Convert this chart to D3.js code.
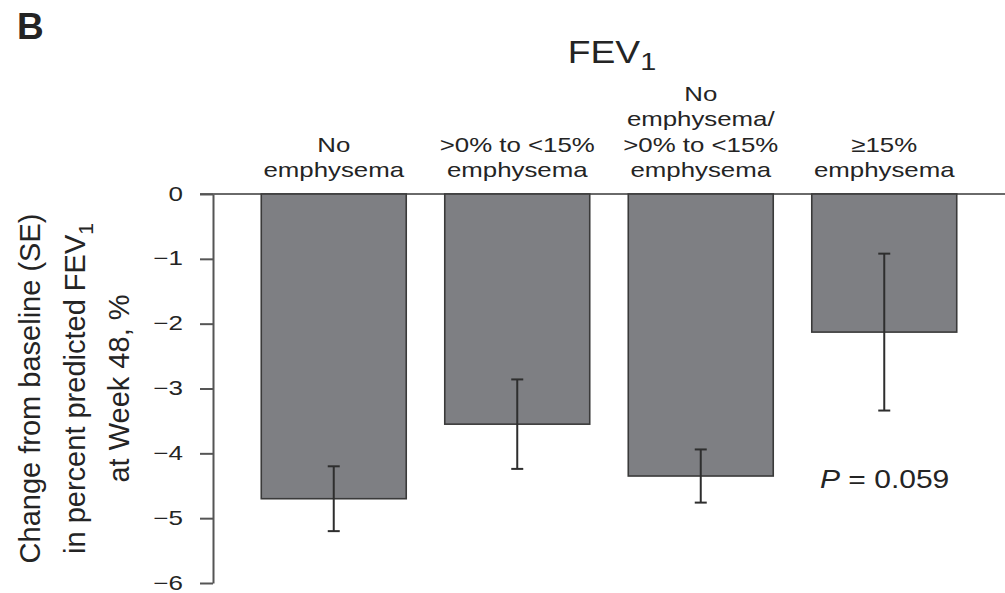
<!DOCTYPE html>
<html><head><meta charset="utf-8">
<script src="https://cdn.jsdelivr.net/npm/d3@7"></script>
<style>
body{margin:0;background:#fff}
svg{display:block}
text{font-family:"Liberation Sans",Arial,Helvetica,sans-serif;fill:#242424}
</style>
</head><body>
<svg id="c" width="1005" height="593"></svg>
<script>
// ---- data ----
const categories = [
  ["No", "emphysema"],
  [">0% to <15%", "emphysema"],
  ["No", "emphysema/", ">0% to <15%", "emphysema"],
  ["\u226515%", "emphysema"]
];
const changeValues = [-4.70, -3.55, -4.35, -2.13];
const seValues = [0.50, 0.69, 0.41, 1.21];
const yTicks = [0, -1, -2, -3, -4, -5, -6];
const yLabelLines = ["Change from baseline (SE)", "in percent predicted FEV", "at Week 48, %"];
const titleText = "FEV";
const pValueText = "0.059";
const panelLabel = "B";

// ---- layout ----
const svg = d3.select("#c");
const plotLeft = 213, plotRight = 1005, plotTop = 194, plotBottom = 583;

const x = d3.scaleBand().domain(d3.range(categories.length))
  .range([plotLeft, plotRight]).paddingInner(0.21).paddingOuter(0.263);
const y = d3.scaleLinear().domain([-6, 0]).range([plotBottom, plotTop]);

// zero line
svg.append("line")
  .attr("x1", plotLeft - 13).attr("x2", plotRight)
  .attr("y1", y(0)).attr("y2", y(0))
  .attr("stroke", "#6a6a6a").attr("stroke-width", 2);

// bars
svg.append("g").selectAll("rect").data(changeValues).join("rect")
  .attr("x", (d, i) => x(i))
  .attr("y", y(0))
  .attr("width", x.bandwidth())
  .attr("height", d => y(d) - y(0))
  .attr("fill", "#7e7f83")
  .attr("stroke", "#3a3a3a")
  .attr("stroke-width", 1.6);

// error bars
const eg = svg.append("g").attr("stroke", "#2e2e2e").attr("stroke-width", 2);
changeValues.forEach((v, i) => {
  const cx = x(i) + x.bandwidth() / 2;
  const se = seValues[i];
  eg.append("line").attr("x1", cx).attr("x2", cx).attr("y1", y(v + se)).attr("y2", y(v - se));
  eg.append("line").attr("x1", cx - 6).attr("x2", cx + 6).attr("y1", y(v + se)).attr("y2", y(v + se));
  eg.append("line").attr("x1", cx - 6).attr("x2", cx + 6).attr("y1", y(v - se)).attr("y2", y(v - se));
});

// y axis
const ax = svg.append("g").attr("transform", `translate(${plotLeft},0)`)
  .call(d3.axisLeft(y).tickValues(yTicks).tickSize(13).tickSizeOuter(0)
    .tickFormat(d => d === 0 ? "0" : "\u2212" + Math.abs(d)));
ax.select(".domain").attr("stroke", "#555").attr("stroke-width", 2);
ax.selectAll(".tick line").attr("stroke", "#555").attr("stroke-width", 2);
ax.selectAll(".tick text")
  .attr("x", 0).attr("dy", "0.3em")
  .attr("transform", "translate(-30,0) scale(1.3,1)")
  .attr("font-size", 20).attr("font-family", "Liberation Sans, Arial, sans-serif")
  .attr("fill", "#242424").attr("text-anchor", "end");

// category labels
const lineGap = 25.5, labelBase = 177;
categories.forEach((lines, i) => {
  const cx = x(i) + x.bandwidth() / 2;
  lines.forEach((t, j) => {
    const by = labelBase - (lines.length - 1 - j) * lineGap;
    svg.append("text")
      .attr("transform", `translate(${cx},${by}) scale(1.23,1)`)
      .attr("text-anchor", "middle")
      .attr("font-size", 21)
      .text(t);
  });
});

// title
const title = svg.append("text")
  .attr("transform", `translate(${(plotLeft + plotRight) / 2 + 3},63) scale(1.2,1)`)
  .attr("text-anchor", "middle")
  .attr("font-size", 31);
title.append("tspan").text(titleText);
title.append("tspan").attr("font-size", 24).attr("dy", 7).text("1");

// panel label
svg.append("text").attr("x", 17).attr("y", 39)
  .attr("font-size", 37).attr("font-weight", "bold").attr("fill", "#1e1e1e")
  .text(panelLabel);

// y-axis label
const ylx = [40, 85, 129];
const ymid = (plotTop + plotBottom) / 2;
yLabelLines.forEach((t, j) => {
  const tx = svg.append("text")
    .attr("transform", `translate(${ylx[j]},${ymid}) rotate(-90)`)
    .attr("text-anchor", "middle")
    .attr("font-size", 29);
  tx.append("tspan").text(t);
  if (j === 1) tx.append("tspan").attr("font-size", 21).attr("dy", 8).text("1");
});

// P value
const p = svg.append("text")
  .attr("transform", `translate(820,488) scale(1.2,1)`)
  .attr("font-size", 25);
p.append("tspan").attr("font-style", "italic").text("P");
p.append("tspan").text(" = " + pValueText);
</script>
</body></html>
